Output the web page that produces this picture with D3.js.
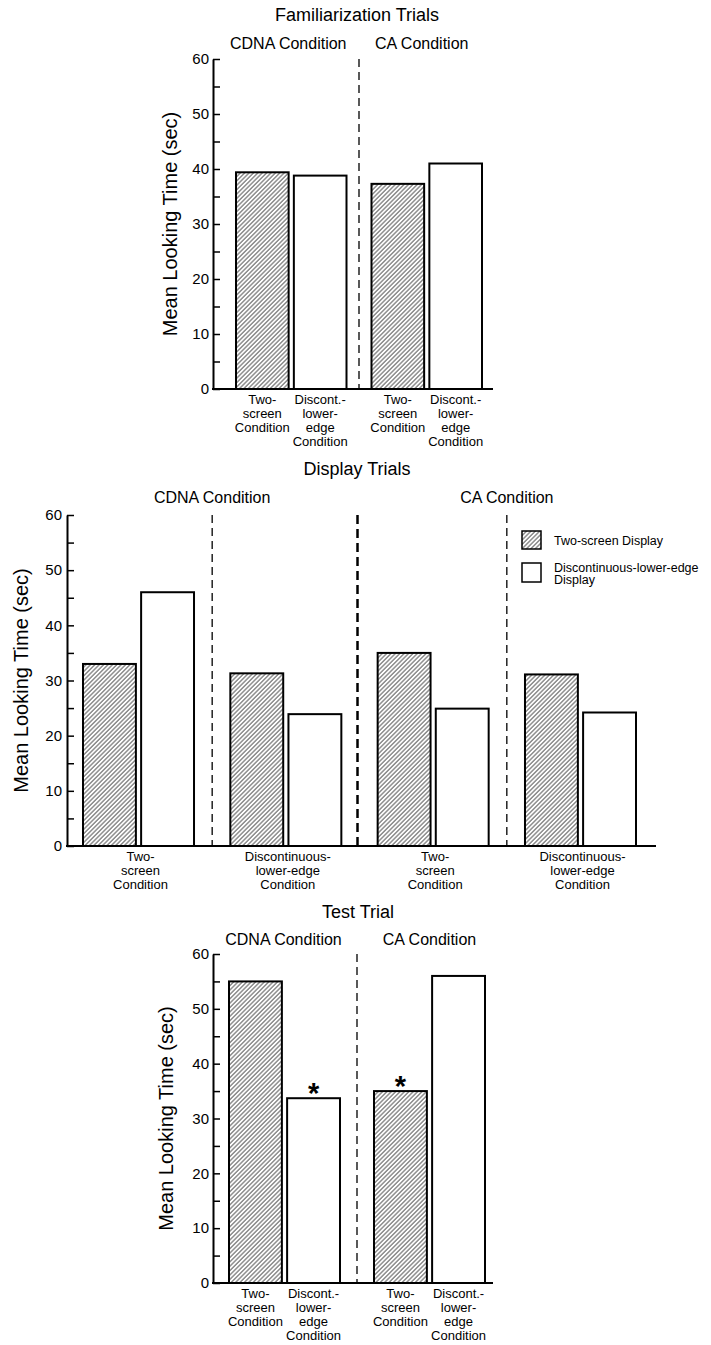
<!DOCTYPE html>
<html><head><meta charset="utf-8">
<script src="https://cdn.jsdelivr.net/npm/d3@7"></script>
<style>
body{margin:0;background:#fff}
svg{display:block}
text{font-family:"Liberation Sans",Arial,Helvetica,sans-serif;fill:#000}
</style>
</head><body>
<svg id="chart" width="711" height="1345"></svg>
<script>
// ---------- data ----------
const yTicks = [0, 10, 20, 30, 40, 50, 60];
const yMinorTicks = [5, 15, 25, 35, 45, 55];
const yTitle = "Mean Looking Time (sec)";
const conditions = ["CDNA Condition", "CA Condition"];
const seriesKeys = ["twoScreen", "discont"];
const legendLabels = [["Two-screen Display"], ["Discontinuous-lower-edge", "Display"]];

// Familiarization trials (one bar per category; two categories per condition)
const famTitle = "Familiarization Trials";
const famGroups = ["CDNA", "CA"];
const famBarLabels = [["Two-", "screen", "Condition"], ["Discont.-", "lower-", "edge", "Condition"]];
const famTwoScreen = [39.4, 37.3];
const famDiscont = [38.8, 41.0];

// Display trials (two bars per category; two categories per condition)
const dispTitle = "Display Trials";
const dispGroups = ["CDNA-two", "CDNA-disc", "CA-two", "CA-disc"];
const dispGroupLabels = [["Two-", "screen", "Condition"], ["Discontinuous-", "lower-edge", "Condition"],
                         ["Two-", "screen", "Condition"], ["Discontinuous-", "lower-edge", "Condition"]];
const dispTwoScreen = [33.0, 31.3, 35.0, 31.1];
const dispDiscont = [46.0, 23.9, 24.9, 24.2];

// Test trial
const testTitle = "Test Trial";
const testGroups = ["CDNA", "CA"];
const testBarLabels = [["Two-", "screen", "Condition"], ["Discont.-", "lower-", "edge", "Condition"]];
const testTwoScreen = [55.0, 35.0];
const testDiscont = [33.7, 56.0];
const testStarTwoScreen = [false, true];
const testStarDiscont = [true, false];

// ---------- drawing ----------
const svg = d3.select("#chart");
const defs = svg.append("defs");
const pat = defs.append("pattern").attr("id", "hatch").attr("patternUnits", "userSpaceOnUse")
  .attr("width", 3.1).attr("height", 10).attr("patternTransform", "rotate(45)");
pat.append("rect").attr("width", 3.1).attr("height", 10).attr("fill", "#fff");
pat.append("line").attr("x1", 0.8).attr("x2", 0.8).attr("y1", 0).attr("y2", 10)
  .attr("stroke", "#444").attr("stroke-width", 0.9);

const fills = {twoScreen: "url(#hatch)", discont: "#fff"};

function drawYAxis(y, x0, pad, labelX) {
  const g = svg.append("g").attr("transform", `translate(${x0},0)`);
  g.call(d3.axisLeft(y).tickValues(yTicks).tickSizeInner(-7).tickSizeOuter(0).tickPadding(pad));
  g.select(".domain").attr("stroke-width", 2);
  g.selectAll(".tick line").attr("stroke-width", 1.5);
  g.selectAll(".tick text").attr("font-size", 15).attr("font-family", "Liberation Sans, Arial, sans-serif");
  const m = svg.append("g").attr("transform", `translate(${x0},0)`);
  m.call(d3.axisLeft(y).tickValues(yMinorTicks).tickSizeInner(-7).tickSizeOuter(0).tickFormat(""));
  m.select(".domain").remove();
  m.selectAll(".tick line").attr("stroke-width", 1.5);
  const cy = (y(0) + y(60)) / 2;
  svg.append("text").attr("transform", `translate(${labelX},${cy}) rotate(-90)`)
    .attr("text-anchor", "middle").attr("font-size", 20).text(yTitle);
}

function baseline(y, x0, x1) {
  svg.append("line").attr("x1", x0 - 1).attr("x2", x1).attr("y1", y(0)).attr("y2", y(0))
    .attr("stroke", "#000").attr("stroke-width", 2);
}

function dashed(x, y, thick) {
  svg.append("line").attr("x1", x).attr("x2", x).attr("y1", y(60)).attr("y2", y(0))
    .attr("stroke", "#000").attr("stroke-width", thick ? 2.5 : 1.3)
    .attr("stroke-dasharray", thick ? "9,5" : "8,5");
}

function multiLabel(x, yBase, lines, size, spacing) {
  const t = svg.append("text").attr("text-anchor", "middle").attr("font-size", size);
  lines.forEach((l, i) => t.append("tspan").attr("x", x).attr("y", yBase + i * spacing).text(l));
}

function bar(x, w, y, v, key) {
  svg.append("rect").attr("x", x).attr("y", y(v)).attr("width", w).attr("height", y(0) - y(v))
    .attr("fill", fills[key]).attr("stroke", "#000").attr("stroke-width", 2);
}

function star(cx, y, v) {
  svg.append("text").attr("x", cx).attr("y", y(v) + 5).attr("text-anchor", "middle")
    .attr("font-size", 29).attr("font-weight", "bold").text("*");
}

// Two-condition panel (familiarization / test)
function pairPanel(opt) {
  const y = d3.scaleLinear().domain([0, 60]).range([opt.yBottom, opt.yTop]);
  const x0 = d3.scaleBand().domain(opt.groups).range(opt.xRange).paddingInner(opt.padG);
  const x1 = d3.scaleBand().domain(seriesKeys).range([0, x0.bandwidth()]).paddingInner(0.09);
  svg.append("text").attr("x", opt.titleX).attr("y", opt.titleY).attr("text-anchor", "middle")
    .attr("font-size", 18).text(opt.title);
  opt.groups.forEach((gk, i) => {
    svg.append("text").attr("x", x0(gk) + x0.bandwidth() / 2 + opt.condShift[i]).attr("y", opt.condY)
      .attr("text-anchor", "middle").attr("font-size", 16).text(conditions[i]);
  });
  dashed((x0(opt.groups[0]) + x0.bandwidth() + x0(opt.groups[1])) / 2, y, false);
  opt.groups.forEach((gk, i) => {
    seriesKeys.forEach((sk, j) => {
      const v = opt.values[sk][i];
      const bx = x0(gk) + x1(sk);
      bar(bx, x1.bandwidth(), y, v, sk);
      multiLabel(bx + x1.bandwidth() / 2, y(0) + 14.5, opt.barLabels[j], 13, 14.3);
      if (opt.stars && opt.stars[sk][i]) star(bx + x1.bandwidth() / 2, y, v);
    });
  });
  baseline(y, opt.axisX, opt.axisEnd);
  drawYAxis(y, opt.axisX, 4, opt.labelX);
}

pairPanel({
  title: famTitle, titleX: 357, titleY: 21, condY: 49, condShift: [-3, -5],
  groups: famGroups, xRange: [236, 482], padG: 0.1845,
  yTop: 59, yBottom: 389, axisX: 213, axisEnd: 493, labelX: 177,
  barLabels: famBarLabels,
  values: {twoScreen: famTwoScreen, discont: famDiscont}
});

pairPanel({
  title: testTitle, titleX: 358, titleY: 918, condY: 945, condShift: [-1, 0],
  groups: testGroups, xRange: [229, 485], padG: 0.2345,
  yTop: 954, yBottom: 1283, axisX: 213, axisEnd: 493, labelX: 173,
  barLabels: testBarLabels,
  values: {twoScreen: testTwoScreen, discont: testDiscont},
  stars: {twoScreen: testStarTwoScreen, discont: testStarDiscont}
});

// Display trials panel
(function () {
  const y = d3.scaleLinear().domain([0, 60]).range([846, 515]);
  const x0 = d3.scaleBand().domain(dispGroups).range([83, 636]).paddingInner(0.2465);
  const x1 = d3.scaleBand().domain(seriesKeys).range([0, x0.bandwidth()]).paddingInner(0.09);
  const vals = {twoScreen: dispTwoScreen, discont: dispDiscont};
  svg.append("text").attr("x", 357).attr("y", 475).attr("text-anchor", "middle")
    .attr("font-size", 18).text(dispTitle);
  [0, 1].forEach(c => {
    const a = x0(dispGroups[c * 2]), b = x0(dispGroups[c * 2 + 1]) + x0.bandwidth();
    svg.append("text").attr("x", (a + b) / 2).attr("y", 503).attr("text-anchor", "middle")
      .attr("font-size", 16).text(conditions[c]);
  });
  for (let i = 0; i < dispGroups.length - 1; i++) {
    const mx = (x0(dispGroups[i]) + x0.bandwidth() + x0(dispGroups[i + 1])) / 2;
    dashed(i === 1 ? mx - 2 : mx, y, i === 1);
  }
  dispGroups.forEach((gk, i) => {
    seriesKeys.forEach(sk => {
      bar(x0(gk) + x1(sk), x1.bandwidth(), y, vals[sk][i], sk);
    });
    multiLabel(x0(gk) + x0.bandwidth() / 2 + 2, y(0) + 14.5, dispGroupLabels[i], 13, 14.3);
  });
  baseline(y, 67, 656);
  drawYAxis(y, 67, 5, 28);

  // legend
  const lg = svg.append("g");
  const boxes = [{key: "twoScreen", y: 531, h: 18, ty: [545]}, {key: "discont", y: 563, h: 19, ty: [572, 584]}];
  boxes.forEach((b, i) => {
    lg.append("rect").attr("x", 522).attr("y", b.y).attr("width", 19).attr("height", b.h)
      .attr("fill", fills[b.key]).attr("stroke", "#000").attr("stroke-width", 1.5);
    legendLabels[i].forEach((l, k) => {
      lg.append("text").attr("x", 554).attr("y", b.ty[k]).attr("font-size", 12.5).text(l);
    });
  });
})();
</script>
</body></html>
